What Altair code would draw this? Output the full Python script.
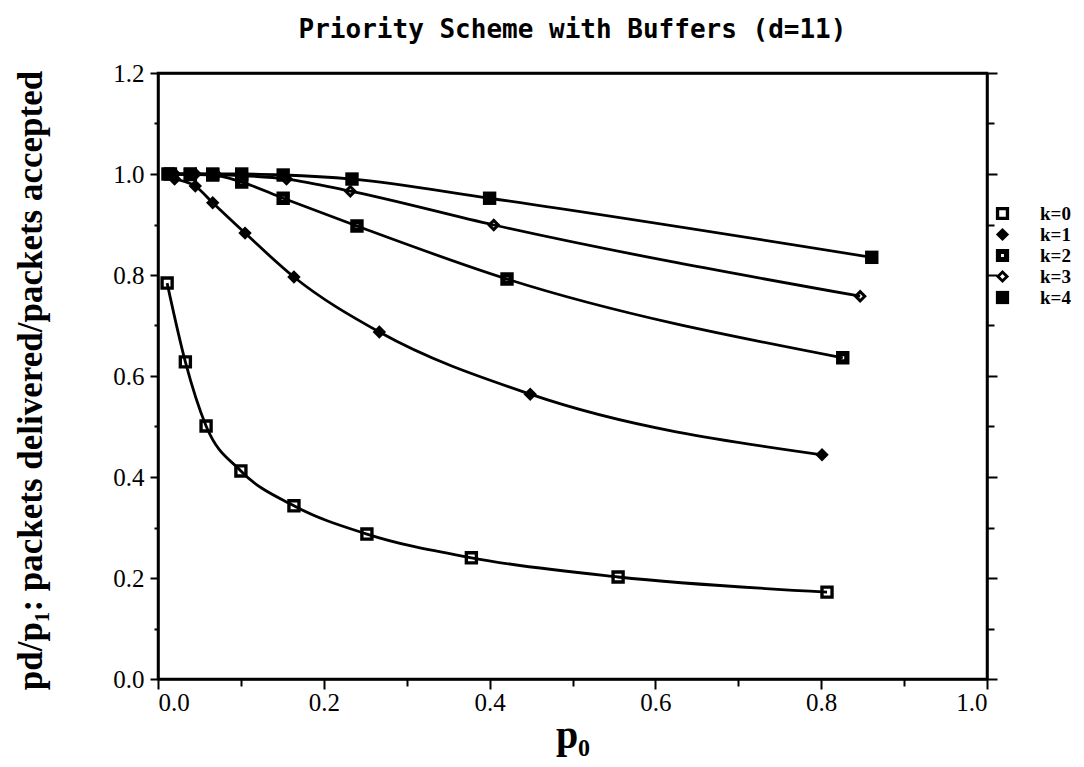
import altair as alt
import pandas as pd

k_labels = ["k=0", "k=1", "k=2", "k=3", "k=4"]

p0_k0 = [0.011, 0.033, 0.058, 0.100, 0.164, 0.252, 0.378, 0.555, 0.807]
r_k0 = [0.784, 0.628, 0.501, 0.412, 0.343, 0.287, 0.240, 0.202, 0.172]

p0_k1 = [0.020, 0.045, 0.066, 0.105, 0.164, 0.267, 0.449, 0.801]
r_k1 = [0.990, 0.976, 0.943, 0.883, 0.796, 0.687, 0.564, 0.444]

p0_k2 = [0.015, 0.039, 0.066, 0.101, 0.151, 0.240, 0.421, 0.826]
r_k2 = [1.000, 0.999, 0.998, 0.984, 0.952, 0.897, 0.792, 0.636]

p0_k3 = [0.020, 0.045, 0.070, 0.100, 0.155, 0.232, 0.405, 0.847]
r_k3 = [1.000, 1.000, 0.999, 0.997, 0.990, 0.966, 0.899, 0.758]

p0_k4 = [0.012, 0.039, 0.066, 0.101, 0.151, 0.234, 0.400, 0.861]
r_k4 = [1.000, 1.000, 1.000, 1.000, 0.998, 0.990, 0.952, 0.835]

x_ticks = [0.0, 0.1, 0.2, 0.3, 0.4, 0.5, 0.6, 0.7, 0.8, 0.9, 1.0]
y_ticks = [0.0, 0.1, 0.2, 0.3, 0.4, 0.5, 0.6, 0.7, 0.8, 0.9, 1.0, 1.1, 1.2]

series = [(k_labels[0], p0_k0, r_k0), (k_labels[1], p0_k1, r_k1),
          (k_labels[2], p0_k2, r_k2), (k_labels[3], p0_k3, r_k3),
          (k_labels[4], p0_k4, r_k4)]
rows = []
for lab, xs, ys in series:
    for x, y in zip(xs, ys):
        rows.append({"k": lab, "p0": x, "ratio": y})
df = pd.DataFrame(rows)

# marker shapes (holes made by reversed inner sub-paths)
shape_paths = [
    "M-1,-1L1,-1L1,1L-1,1Z M-0.5,-0.5L-0.5,0.5L0.5,0.5L0.5,-0.5Z",   # open square
    "M0,-1L1,0L0,1L-1,0Z",                                           # filled diamond
    "M-1,-1L1,-1L1,1L-1,1Z M-0.22,-0.22L-0.22,0.22L0.22,0.22L0.22,-0.22Z",  # square with dot
    "M0,-1L1,0L0,1L-1,0Z M0,-0.38L-0.38,0L0,0.38L0.38,0Z",           # open diamond
    "M-1,-1L1,-1L1,1L-1,1Z",                                         # filled square
]

even = "abs(round(datum.value*10)) % 2 === 0"
lbl = "abs(round(datum.value*10)) % 2 === 0 ? format(datum.value, '.1f') : ''"

xscale = alt.Scale(domain=[0, 1], nice=False, zero=False)
yscale = alt.Scale(domain=[0, 1.2], nice=False)

serif = "Liberation Serif"

lines = alt.Chart(df).mark_line(
    interpolate="monotone", color="black", strokeWidth=2.8
).encode(
    x=alt.X("p0:Q", scale=xscale, title="p₀",
            axis=alt.Axis(orient="bottom", values=x_ticks, labelExpr=lbl,
                          tickSize={"condition": {"test": even, "value": 10}, "value": 7},
                          labelFont=serif, labelFontSize=25, labelPadding=1,
                          titleFont=serif, titleFontSize=40, titleFontWeight="bold",
                          titlePadding=0, grid=False)),
    y=alt.Y("ratio:Q", scale=yscale,
            title="pd/p₁: packets delivered/packets accepted",
            axis=alt.Axis(orient="left", values=y_ticks, labelExpr=lbl,
                          tickSize={"condition": {"test": even, "value": 8}, "value": 4},
                          labelFont=serif, labelFontSize=25, labelPadding=6,
                          titleFont=serif, titleFontSize=35, titleFontWeight="bold",
                          titleX=-110, titleY=307, grid=False)),
    detail="k:N",
)

points = alt.Chart(df).mark_point(
    filled=True, color="black", opacity=1, size=180
).encode(
    x=alt.X("p0:Q", scale=xscale, title=None,
            axis=alt.Axis(orient="top", labels=False, ticks=False, grid=False)),
    y=alt.Y("ratio:Q", scale=yscale, title=None,
            axis=alt.Axis(orient="right", values=y_ticks, labels=False,
                          tickSize={"condition": {"test": even, "value": 10}, "value": 7},
                          grid=False)),
    shape=alt.Shape("k:N", scale=alt.Scale(domain=k_labels, range=shape_paths),
                    legend=alt.Legend(title=None, orient="none", legendX=835, legendY=131,
                                      symbolFillColor="black", symbolStrokeWidth=0,
                                      symbolSize=175, labelFont=serif, labelFontSize=19,
                                      labelFontWeight="bold", labelOffset=28,
                                      rowPadding=1, padding=0)),
)

chart = alt.layer(lines, points).resolve_axis(
    x="independent", y="independent"
).properties(
    width=829, height=606,
    title=alt.TitleParams("Priority  Scheme with Buffers (d=11)",
                          font="DejaVu Sans Mono", fontSize=26, fontWeight="bold",
                          anchor="middle", offset=18, color="black"),
    autosize=alt.AutoSizeParams(type="none"),
    padding={"left": 150, "top": 65, "right": 89, "bottom": 80},
).configure_view(
    stroke="black", strokeWidth=2.5
).configure_axis(
    domainColor="black", domainWidth=2.5, tickColor="black", tickWidth=2,
    labelColor="black", titleColor="black"
).configure_legend(
    labelColor="black"
)

chart.save("out.html", embed_options={"renderer": "svg", "actions": False})
